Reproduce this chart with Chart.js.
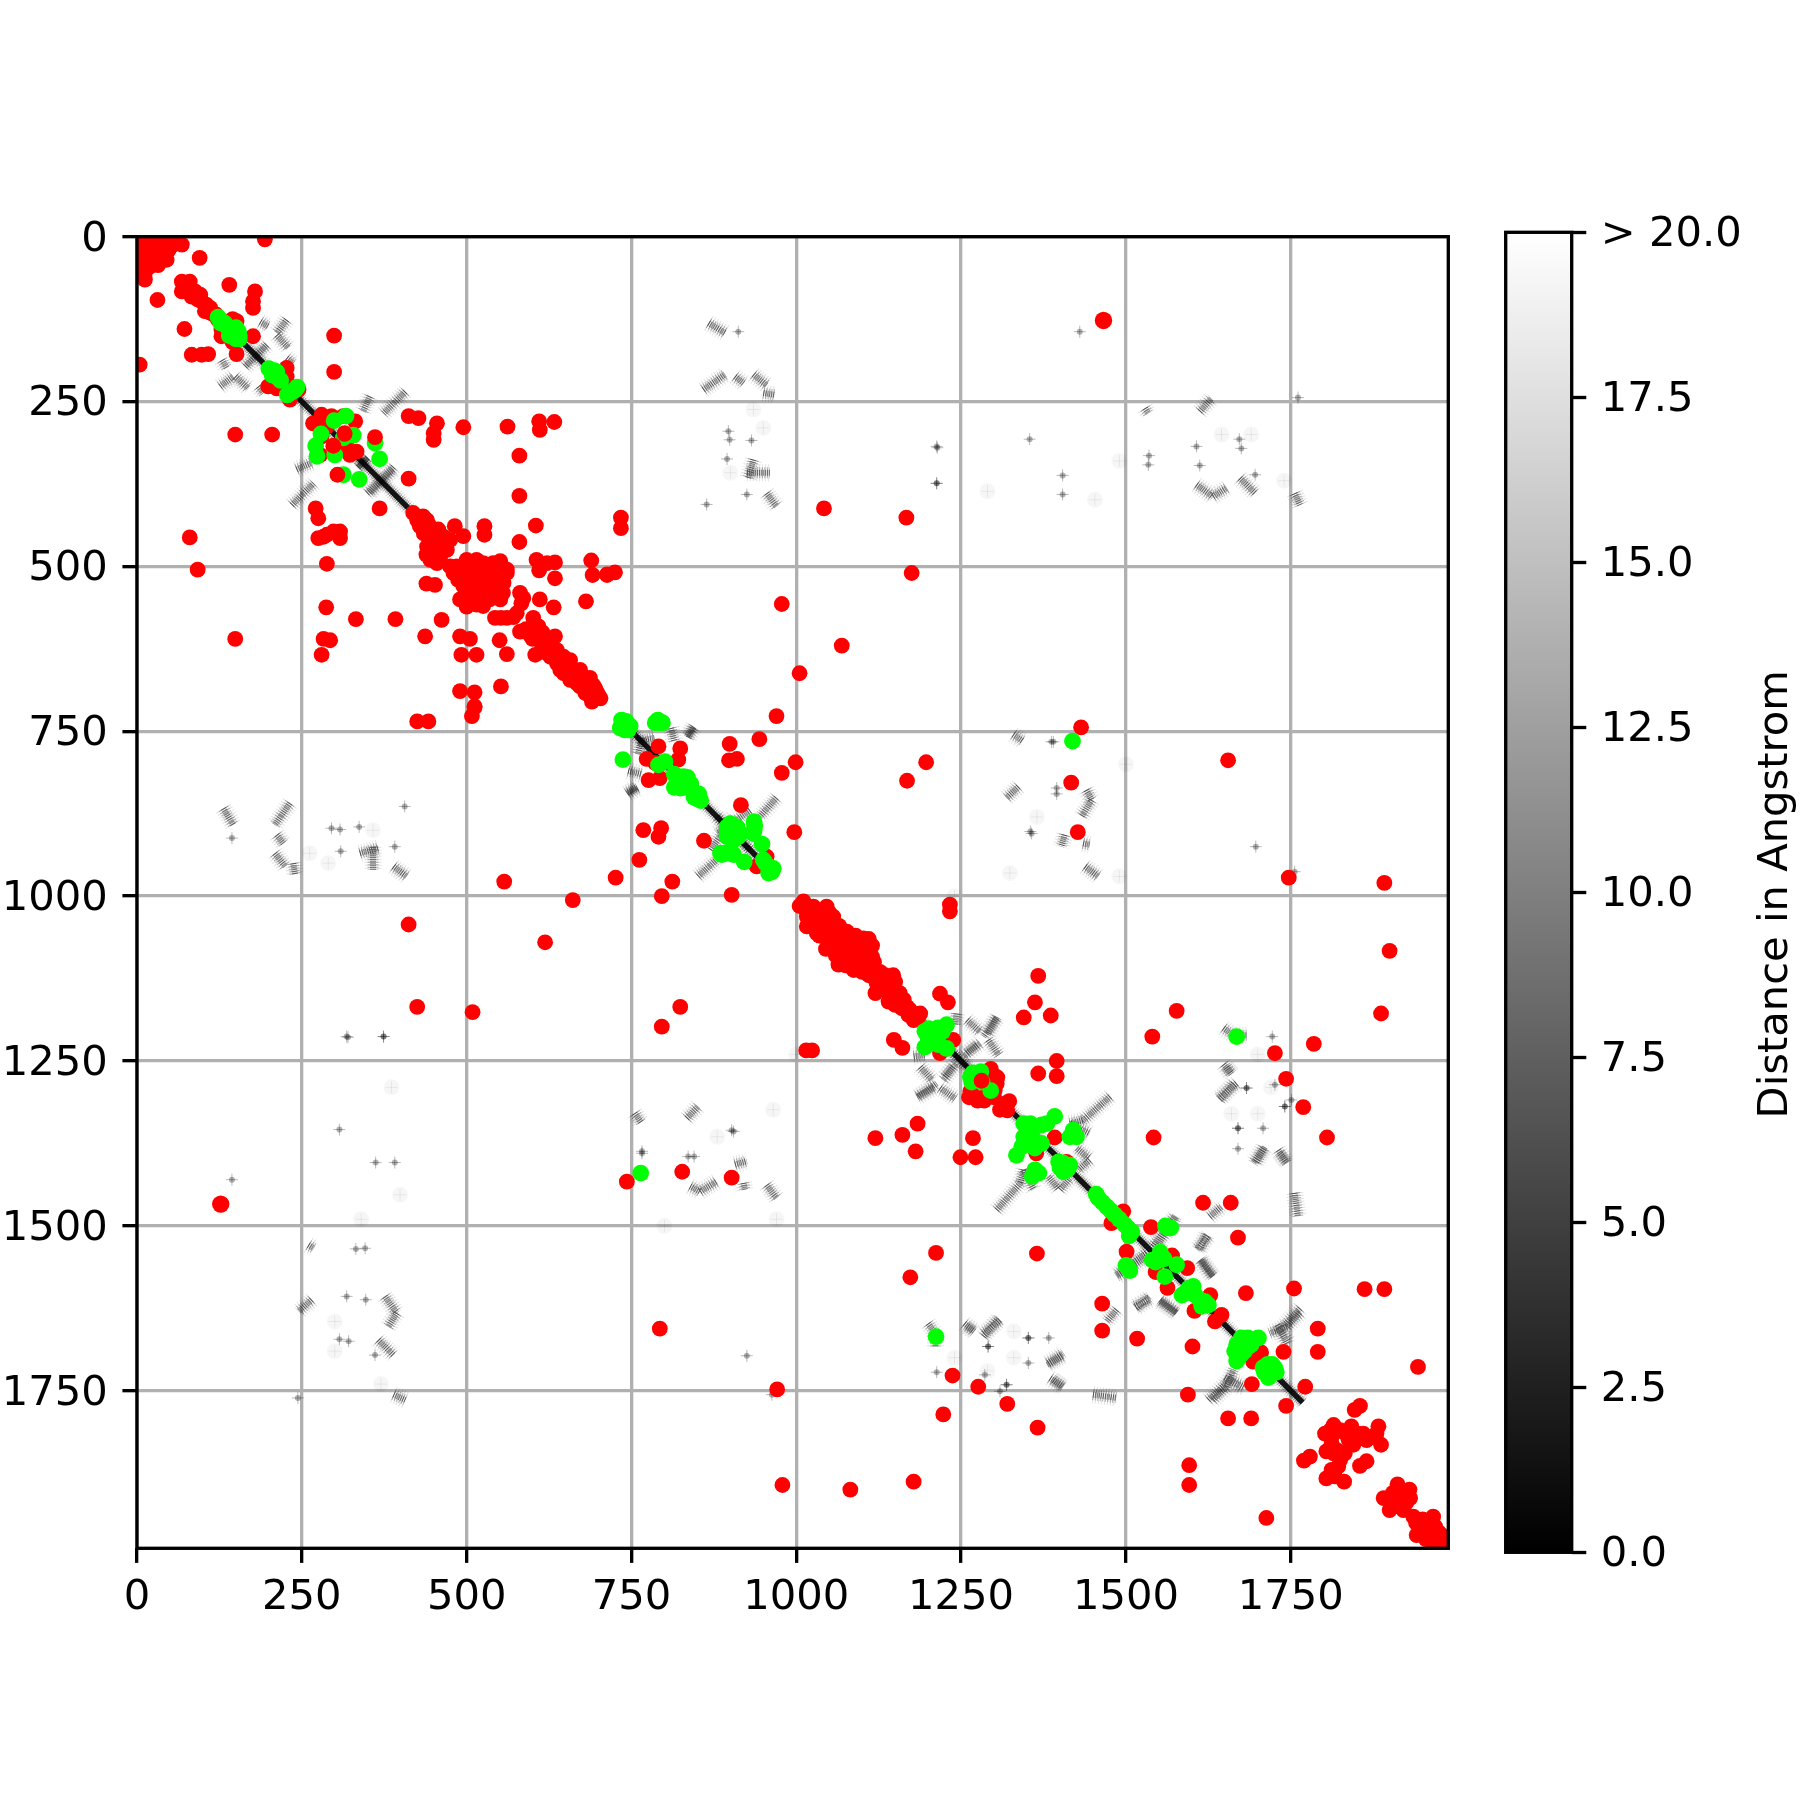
<!DOCTYPE html>
<html>
<head>
<meta charset="utf-8">
<title>Contact map</title>
<script src="https://cdn.jsdelivr.net/npm/chart.js@4"></script>
<style>
  html, body { margin: 0; padding: 0; background: #fff; }
  canvas { position: absolute; left: 0; top: 0; }
</style>
</head>
<body>
<canvas id="chartMapa" width="1800" height="1800"></canvas>
<canvas id="chartBarra" width="1800" height="1800"></canvas>
<script>
const axisTicks = [0,250,500,750,1000,1250,1500,1750];
const colorTicks = [0,2.5,5,7.5,10,12.5,15,17.5,20];
const colorLabels = ['0.0','2.5','5.0','7.5','10.0','12.5','15.0','17.5','> 20.0'];
const colorTitle = 'Distance in Angstrom';

// red contacts
const redContacts = [
[12,15],[22,10],[32,8],[42,8],[12,25],[22,25],[32,22],[10,35],[20,35],[30,35],[40,30],[8,45],[12,55],[12,65],[32,43],[45,35],[55,12],[68,12],[95,32],[194,4],
[4,10],[4,22],[4,32],[15,4],[25,3],[38,18],[48,20],[20,45],[5,50],[28,15],
[68,68],[80,68],[68,83],[83,91],[96,88],[98,98],[111,108],[103,113],[116,118],[123,126],[151,128],[140,73],[179,83],[176,98],[176,108],[31,96],[72,140],[128,151],[176,151],[151,178],[83,179],[98,179],[108,178],[4,194],
[75,75],[88,83],[92,95],[105,103],[110,115],[120,118],[130,128],[138,135],[145,125],[135,150],[145,160],[128,140],
[227,199],[227,212],[199,227],[212,230],[245,232],[232,247],[299,150],[299,205],[149,300],[205,300],
[280,270],[295,272],[267,283],[288,288],[315,298],[298,318],[331,280],[278,331],[323,331],[333,326],[318,318],[280,303],[313,272],[412,367],[368,412],[271,412],[275,427],[412,272],[427,275],[455,283],[450,298],[450,308],[495,289],[562,288],[610,280],[611,293],[633,281],[580,332],[580,393],[605,438],[580,463],[689,491],[691,513],[713,513],[606,490],[622,495],[634,494],[610,506],[634,518],[681,553],[611,550],[632,562],
[80,456],[92,505],[288,496],[283,455],[298,447],[308,447],[308,457],[288,452],[275,457],[149,610],[287,562],[283,610],[293,612],[280,634],[332,580],[392,580],[462,581],[437,606],[439,526],[452,528],[490,606],[505,610],[492,634],[515,634],[550,612],[561,633],[490,689],[512,691],[512,712],[552,682],
[419,419],[434,424],[429,439],[444,439],[457,444],[444,457],[460,470],[439,482],[455,495],[482,439],[495,454],[527,439],[527,452],[475,460],
[425,430],[440,430],[450,450],[435,450],[465,455],[450,465],[440,470],[470,475],[455,480],[445,490],[460,485],
[500,490],[485,500],[515,490],[500,510],[520,505],[551,492],[561,505],[487,520],[515,525],[535,515],[556,525],[540,540],[525,550],[490,550],[500,561],[515,558],[551,550],[561,510],[546,500],
[495,500],[510,500],[525,495],[505,520],[495,530],[530,505],[545,510],[530,530],[545,530],[550,520],[505,540],[520,540],[535,550],[500,548],[510,555],[480,510],[475,500],[490,510],[540,495],[556,510],[525,560],[555,540],
[581,540],[583,556],[576,571],[561,578],[543,578],[601,578],[609,591],[581,599],[596,604],[609,611],[634,606],[604,634],[571,577],[552,578],[586,548],
[590,595],[603,598],[615,600],[600,610],[620,615],[625,625],[612,630],
[632,629],[642,642],[652,652],[662,662],[672,672],[682,682],[690,690],[697,690],[687,697],[697,697],[657,642],[642,657],[672,657],[657,672],[687,669],
[627,637],[637,627],[647,637],[637,647],[657,652],[647,662],[667,662],[657,667],[677,667],[667,677],[680,672],[672,682],[692,680],[680,692],[700,695],[692,700],[685,685],[695,685],[703,700],[690,705],
[734,426],[734,442],[713,512],[725,509],[978,557],[1069,620],[1005,662],[970,727],[1042,412],[1167,426],[1175,510],
[425,735],[442,735],[512,714],[508,727],[557,978],[661,1006],[619,1070],[412,1043],[425,1168],[509,1176],
[944,762],[899,769],[898,794],[910,792],[999,797],[978,813],[1197,797],[1168,825],[791,773],[824,776],[773,792],[821,793],[776,824],[793,821],[786,798],[916,862],[768,900],[795,897],[791,910],[860,916],[997,903],[762,945],[726,972],[812,978],[796,1000],[902,998],[955,940],[940,955],
[824,1168],[796,1198],[1015,1234],[1024,1234],[1148,1218],[1161,1230],[1218,1148],[1230,1161],[1233,1013],[1233,1023],
[1011,1008],[1026,1016],[1046,1016],[1016,1031],[1036,1031],[1056,1031],[1016,1046],[1031,1056],[1051,1051],[1077,1054],[1056,1082],[1077,1072],[1102,1064],[1112,1077],[1092,1082],[1064,1104],[1087,1112],[1115,1092],[1112,1107],[1127,1115],[1147,1120],[1120,1147],[1137,1132],[1142,1152],[1157,1147],[1168,1168],[1163,1157],[1180,1180],[1188,1178],[1178,1188],[1122,1132],[1087,1097],[1066,1097],[1107,1092],
[1005,1015],[1020,1025],[1030,1030],[1040,1025],[1050,1025],[1025,1045],[1040,1045],[1035,1060],[1050,1065],[1065,1045],[1070,1060],[1060,1065],[1045,1080],[1060,1090],[1075,1085],[1085,1070],[1090,1060],[1100,1075],[1100,1095],[1095,1105],[1075,1105],[1080,1095],[1070,1085],[1085,1095],[1110,1065],[1115,1075],[1105,1110],[1100,1115],[1118,1100],[1125,1125],[1110,1120],[1120,1115],[1135,1120],[1130,1140],[1140,1140],[1125,1138],[1150,1130],[1150,1155],[1155,1165],[1160,1170],[1172,1172],[1170,1180],[1185,1185],[1140,1160],[1150,1165],
[1238,1218],[1218,1238],[1299,1271],[1304,1284],[1271,1304],[1286,1304],[1301,1294],[1264,1296],[1323,1311],[1309,1324],[1295,1262],[1305,1275],[1262,1305],[1285,1310],[1300,1305],[1275,1310],[1315,1315],[1320,1325],
[1367,1121],[1362,1161],[1345,1184],[1386,1181],[1395,1250],[1367,1269],[1395,1273],[1184,1345],[1161,1362],[1120,1367],[1181,1387],[1268,1367],[1249,1396],[1272,1396],[827,1418],[743,1433],[902,1427],
[1432,744],[1417,828],[1427,903],[1655,794],[1747,972],[1892,980],[1900,1083],[1887,1178],[1577,1174],[1540,1213],[1785,1224],[1726,1238],[1743,1277],[1769,1320],[1805,1366],[1542,1366],[1392,1366],[1364,1390],[1410,1403],[1400,1410],
[793,1656],[971,1748],[979,1893],[1082,1900],[1178,1888],[1212,1541],[1173,1578],[1365,1542],[1237,1727],[1276,1744],[1320,1770],[1223,1786],[1366,1806],
[1496,1478],[1478,1496],[1486,1488],[1538,1502],[1501,1539],[1570,1545],[1545,1570],[1593,1564],[1563,1594],[1628,1605],[1604,1629],[1645,1635],[1635,1645],[1682,1602],[1755,1595],[1862,1596],[1892,1596],[1617,1465],[1659,1465],[1670,1518],[1464,1618],[1464,1659],[1517,1671],[1601,1683],[1791,1656],[1791,1691],[1739,1691],[1705,1692],[1693,1706],[1691,1740],[1772,1744],[1594,1756],[1743,1773],[1655,1792],[1690,1792],[1943,1714],[1713,1943],[1596,1863],[1596,1893],
[1855,1773],[1847,1779],[1815,1802],[1802,1815],[1815,1815],[1842,1804],[1835,1817],[1852,1815],[1883,1804],[1880,1815],[1865,1825],[1887,1832],[1845,1832],[1832,1845],[1804,1842],[1815,1845],[1779,1850],[1770,1856],[1865,1857],[1855,1864],[1822,1865],[1804,1883],[1817,1880],[1831,1888],
[1810,1810],[1825,1810],[1838,1825],[1812,1830],[1820,1840],[1825,1855],[1812,1870],[1860,1815],[1875,1820],
[1912,1892],[1930,1900],[1891,1913],[1900,1931],[1913,1913],[1931,1913],[1921,1931],[1936,1941],[1966,1941],[1946,1956],[1961,1956],[1941,1969],[1969,1956],[1974,1976],[1984,1976],[1981,1986],[1966,1981],
[1905,1905],[1920,1905],[1925,1920],[1910,1925],[1940,1950],[1950,1945],[1955,1965],[1965,1965],[1975,1965],[1970,1985],[1980,1970],[1955,1975],[1945,1965],[1985,1985],[1975,1985]
];
const redLarge = [[1466,127],[127,1467]];
// the few red ones lying on top of the green ones
const redOnTop = [[315,299],[298,317],[361,304],[304,361],[1281,1280]];

const greenContacts = [
[123,122],[133,131],[141,141],[149,149],[154,144],[146,151],[204,203],[214,214],[232,237],[240,232],
[128,128],[138,138],[145,145],[150,155],[155,150],[155,155],[140,150],[150,138],[127,131],
[205,210],[212,205],[200,200],[218,218],[208,203],[236,235],[228,240],[243,228],
[299,279],[317,272],[279,299],[271,317],[328,301],[313,305],[300,331],[273,333],[368,337],[337,368],[313,361],[361,313],
[735,733],[748,742],[740,748],[793,737],[786,737],[737,793],[801,796],[791,801],[819,824],[829,819],[824,836],[847,844],[849,852],
[735,740],[742,735],[745,748],[733,745],[790,733],[797,737],[815,815],[825,825],[835,820],[815,835],[830,835],[840,830],[820,830],[845,850],[852,845],[855,855],
[905,897],[895,905],[912,910],[902,895],[936,887],[936,900],[948,921],[887,937],[900,935],[921,948],[953,950],[963,963],[958,955],
[895,895],[905,905],[910,895],[895,910],[915,905],[905,915],[900,890],[937,893],[935,905],[885,935],[893,935],[905,937],[950,945],[960,960],[965,958],[958,965],
[1201,1201],[1228,1195],[1213,1213],[1195,1229],[1228,1231],[1274,1274],[1264,1274],[1295,1295],
[1205,1205],[1215,1225],[1205,1220],[1222,1205],[1200,1215],[1215,1200],[1195,1205],[1268,1268],[1280,1266],[1266,1282],[1282,1282],
[1419,765],[1668,1213],[1352,1350],[1372,1347],[1392,1334],[1347,1375],[1334,1393],[1372,1375],[1357,1365],[1420,1360],[1362,1420],[1407,1410],[1404,1406],[1412,1414],
[1345,1345],[1355,1345],[1350,1358],[1345,1365],[1360,1352],[1380,1345],[1352,1370],[1342,1380],[1362,1382],[1420,1355],[1425,1365],[1415,1365],[1362,1415],[1358,1425],[1368,1420],[1405,1405],[1410,1415],[1400,1412],[1415,1408],[1405,1418],[1398,1403],
[764,1420],[1212,1668],
[1458,1458],[1471,1471],[1483,1483],[1498,1498],[1509,1509],[1563,1503],[1503,1563],[1552,1551],[1577,1559],[1559,1577],[1590,1602],[1602,1592],[1612,1612],[1620,1615],[1615,1622],
[1464,1464],[1477,1477],[1490,1490],[1503,1503],[1455,1452],[1505,1515],[1560,1500],[1568,1503],[1500,1560],[1506,1568],[1545,1555],[1558,1550],[1552,1540],[1540,1552],[1605,1605],[1625,1620],[1595,1595],[1585,1605],
[1678,1675],[1668,1680],[1701,1670],[1670,1701],[1686,1683],[1713,1716],[1718,1724],[1726,1716],
[1675,1670],[1685,1670],[1690,1680],[1680,1690],[1665,1690],[1695,1672],[1675,1695],[1672,1685],[1668,1705],[1715,1710],[1710,1722],[1722,1710],[1720,1718],[1728,1722],[1708,1715],[1716,1730]
];

// grey map: the dark diagonal runs, as [from, to]
const diagonalRuns = [[130,415],[735,968],[1190,1768]];
// grey map: short strokes [x1,y1,x2,y2], the map is symmetric so each one is mirrored below
const heatStrokes = [
[227,126,212,146],[197,164,164,197],[212,149,230,169],[187,129,199,136],[184,227,192,237],
[407,235,374,268],[353,242,343,265],[389,349,353,389],[335,350,350,335],
[970,851,945,879],[844,743,834,758],[760,765,785,760],[810,745,815,765],[745,844,761,836],[870,930,905,880],[880,880,930,930],
[1304,1185,1284,1213],[1274,1226,1254,1243],[1238,1259,1223,1279],[1208,1291,1183,1304],[1259,1188,1279,1206],[1291,1218,1307,1241],[1243,1178,1241,1195],[1220,1220,1290,1290],
[1476,1304,1433,1342],[1445,1400,1428,1415],[1397,1443,1382,1425],[1345,1415,1340,1435],[1415,1345,1445,1360],
[1625,1516,1607,1536],[1612,1552,1632,1577],[1514,1622,1536,1612],[1552,1615,1577,1632],[1547,1531,1577,1486],[1531,1541,1486,1574],[1627,1486,1645,1471],
[1764,1632,1744,1653],[1744,1653,1718,1663],[1625,1764,1663,1729],[1730,1650,1745,1675],[1650,1730,1680,1745],
[867,131,892,146],[859,232,892,209],[907,212,920,222],[935,209,955,225],[950,237,968,240],[925,358,960,358],[935,338,927,366],[955,389,970,409],
[1529,260,1534,268],[1612,265,1630,245],[1607,376,1632,394],[1632,394,1653,381],[1673,366,1696,389],[1756,389,1764,407],
[755,1329,765,1344],[834,1337,851,1319],[907,1407,925,1402],[920,1435,922,1445],[839,1440,854,1448],[854,1448,879,1433],[955,1438,970,1458],
[1200,1648,1211,1663],[1211,1663,1211,1683],[1255,1648,1270,1660],[1284,1663,1309,1643],[1403,1698,1380,1711],[1385,1731,1405,1744],
[1668,1284,1640,1307],[1653,1259,1660,1269],[1708,1382,1693,1405],[1734,1390,1744,1403],[1756,1450,1761,1486]
];
// grey map: small isolated spots
const heatSpots = [
[912,144],[897,295],[899,308],[932,309],[895,337],[864,406],[925,391],[1214,320],[1213,374],[1354,307],[1404,362],[1404,391],[1430,144],
[1534,346],[1535,332],[1607,318],[1675,321],[1672,307],[1612,347],[1696,361],[1761,244],
[766,1387],[905,1357],[845,1395],[1352,1670],[1383,1670],[1286,1726],[1213,1722],[1319,1741],[1291,1683],[1683,1291],[1741,1319],[1751,1309],[1670,1352],[1708,1352],[1697,925],[1756,963],[318,1213],[374,1213],[1390,766],[1355,902],[1395,836]
];
// grey map: very light textured patches
const heatFaint = [
[935,262],[900,358],[1453,399],[1324,965],[1290,386],[1490,340],[1645,300],[1690,300],[1740,370],[950,290],[1240,1700],[1330,1660],[1700,1330],[1720,1290],[1240,1000],[1500,800],[1490,970],[880,1365]
];

const xy = p => ({x:p[0],y:p[1]});

// strokes and their mirror image, split with gaps so they are drawn as separate pieces
let heatLine = [];
heatStrokes.forEach(s=>{
  heatLine.push({x:s[0],y:s[1]},{x:s[2],y:s[3]},{x:NaN,y:NaN});
  heatLine.push({x:s[1],y:s[0]},{x:s[3],y:s[2]},{x:NaN,y:NaN});
});
let diagonalLine = [];
diagonalRuns.forEach(r=>{
  diagonalLine.push({x:r[0],y:r[0]},{x:r[1],y:r[1]},{x:NaN,y:NaN});
});
const mirrored = list => list.concat(list.map(p=>[p[1],p[0]])).map(xy);

const PT = 300/72;
Chart.defaults.font.family = '"DejaVu Sans"';
Chart.defaults.font.size = 10*PT;
Chart.defaults.color = '#000';

// top and right spines are not axes in Chart.js, so the frame is stroked on top
const frame = {
  id:'frame',
  afterDatasetsDraw(chart){
    const a = chart.chartArea, ctx = chart.ctx;
    ctx.save();
    ctx.strokeStyle = '#000';
    ctx.lineWidth = 0.8*PT;
    ctx.strokeRect(a.left,a.top,a.right-a.left,a.bottom-a.top);
    ctx.restore();
  }
};

// y tick labels sit a little lower than the canvas middle baseline puts them
const labelShift = {
  id:'labelShift',
  afterLayout(chart){
    const items = chart.scales.y.getLabelItems(chart.chartArea);
    items.forEach(i=>{ i.options.translation[1] += 3; });
  }
};

const dots = (data,color,radius) => ({
  type:'scatter',
  data:data,
  backgroundColor:color,
  borderWidth:0,
  pointRadius:radius,
  pointHoverRadius:radius,
});
const crosses = (data,color,radius,width) => ({
  type:'scatter',
  data:data,
  pointStyle:'cross',
  borderColor:color,
  borderWidth:width,
  pointRadius:radius,
  pointHoverRadius:radius,
});
const strokes = (data,color,width,dash) => ({
  type:'scatter',
  data:data,
  showLine:true,
  spanGaps:false,
  borderColor:color,
  borderWidth:width,
  borderDash:dash,
  pointRadius:0,
  pointHoverRadius:0,
});

const axis = (position,reverse,fit,pad) => ({
  type:'linear',
  position:position,
  reverse:reverse,
  min:0,
  max:1989,
  afterBuildTicks:s=>{ s.ticks = axisTicks.map(v=>({value:v})); },
  afterFit:fit,
  grid:{
    color:'#b0b0b0',
    lineWidth:0.8*PT,
    tickColor:'#000',
    tickWidth:0.8*PT,
    tickLength:3.5*PT,
  },
  border:{display:false},
  ticks:{
    padding:pad,
    maxRotation:0,
    autoSkip:false,
    callback:v=>String(v),
  },
});

new Chart(document.getElementById('chartMapa'),{
  type:'scatter',
  data:{
    datasets:[
      dots(redOnTop.map(xy),'#ff0000',7.9),
      dots(greenContacts.map(xy),'#00ff00',8.4),
      dots(redContacts.map(xy),'#ff0000',7.9),
      dots(redLarge.map(xy),'#ff0000',8.7),
      crosses(mirrored(heatSpots),'rgba(0,0,0,0.28)',6,1),
      dots(mirrored(heatSpots),'rgba(0,0,0,0.3)',3),
      dots(mirrored(heatFaint),'rgba(0,0,0,0.035)',8),
      crosses(mirrored(heatFaint),'rgba(0,0,0,0.07)',6,1),
      strokes(diagonalLine,'rgba(0,0,0,0.9)',5.5,[]),
      strokes(heatLine,'rgba(0,0,0,0.5)',6,[1,1]),
      strokes(diagonalLine,'rgba(0,0,0,0.4)',10,[1,1]),
      strokes(heatLine,'rgba(0,0,0,0.32)',11,[1,1.5]),
      strokes(diagonalLine,'rgba(0,0,0,0.15)',15,[1,1.5]),
      strokes(heatLine,'rgba(0,0,0,0.12)',17,[1,2]),
    ],
  },
  options:{
    responsive:false,
    animation:false,
    devicePixelRatio:1,
    layout:{padding:{left:0,top:236.7,right:351.7,bottom:0}},
    scales:{
      x:axis('bottom',false,s=>{ s.height = 251.7; },10),
      y:axis('left',true,s=>{ s.width = 137; },3.5*PT),
    },
    plugins:{
      legend:{display:false},
      tooltip:{enabled:false},
    },
  },
  plugins:[frame,labelShift],
});

// colour bar title reads upwards, the axis title option on a right axis reads downwards
const barTitle = {
  id:'barTitle',
  afterDraw(chart){
    const a = chart.chartArea, ctx = chart.ctx;
    ctx.save();
    ctx.translate(1776,(a.top+a.bottom)/2+2);
    ctx.rotate(-Math.PI/2);
    ctx.textAlign = 'center';
    ctx.textBaseline = 'middle';
    ctx.font = (10*PT)+'px "DejaVu Sans"';
    ctx.fillStyle = '#000';
    ctx.fillText(colorTitle,0,0);
    ctx.restore();
  }
};

new Chart(document.getElementById('chartBarra'),{
  type:'bar',
  data:{
    labels:[''],
    datasets:[{
      data:[[colorTicks[0],colorTicks[colorTicks.length-1]]],
      barPercentage:1,
      categoryPercentage:1,
      borderWidth:0,
      backgroundColor:ctx=>{
        const a = ctx.chart.chartArea;
        if(!a) return '#888';
        const g = ctx.chart.ctx.createLinearGradient(0,a.bottom,0,a.top);
        g.addColorStop(0,'#000');
        g.addColorStop(1,'#fff');
        return g;
      },
    }],
  },
  options:{
    responsive:false,
    animation:false,
    devicePixelRatio:1,
    layout:{padding:{left:1505.7,top:232.3,right:0,bottom:247.7}},
    scales:{
      x:{display:false},
      y:{
        position:'right',
        min:0,
        max:20,
        afterBuildTicks:s=>{ s.ticks = colorTicks.map(v=>({value:v})); },
        afterFit:s=>{ s.width = 228.3; },
        grid:{
          drawOnChartArea:false,
          tickColor:'#000',
          tickWidth:0.8*PT,
          tickLength:3.5*PT,
        },
        border:{display:false},
        ticks:{
          padding:3.5*PT,
          autoSkip:false,
          callback:v=>colorLabels[colorTicks.indexOf(v)],
        },
      },
    },
    plugins:{
      legend:{display:false},
      tooltip:{enabled:false},
    },
  },
  plugins:[frame,labelShift,barTitle],
});
</script>
</body>
</html>
